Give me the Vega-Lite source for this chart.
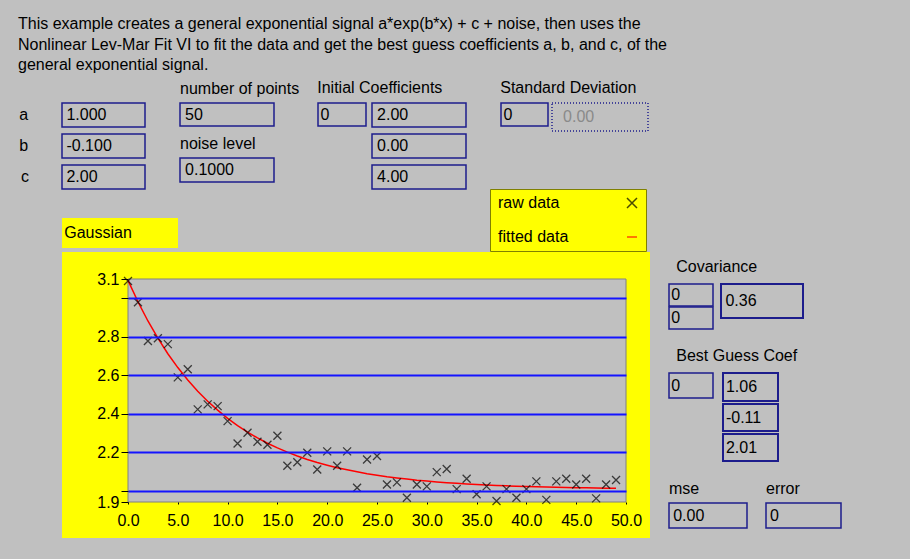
{
  "$schema": "https://vega.github.io/schema/vega-lite/v6.json",
  "autosize": "none",
  "padding": {"left": 62, "top": 103, "right": 848, "bottom": 456},
  "background": "#c0c0c0",
  "config": {
    "view": {"stroke": "#1c1c8c", "strokeWidth": 1.5},
    "text": {"font": "Liberation Sans", "fontSize": 16, "color": "#000000", "align": "left", "baseline": "middle"},
    "title": {"font": "Liberation Sans", "fontSize": 16, "fontWeight": "normal", "color": "#000000", "anchor": "start", "offset": 6}
  },
  "title": {
    "text": [
      "This example creates a general exponential signal a*exp(b*x) + c + noise, then uses the",
      "Nonlinear Lev-Mar Fit VI to fit the data and get the best guess coefficients a, b, and c, of the",
      "general exponential signal."
    ],
    "anchor": "start",
    "frame": "group",
    "orient": "top",
    "dx": -44,
    "offset": -6,
    "baseline": "alphabetic",
    "lineHeight": 20.5
  },
  "datasets": {
    "raw": [
      {"x": 0, "y": 3.09, "series": "raw data"},
      {"x": 1, "y": 2.979, "series": "raw data"},
      {"x": 2, "y": 2.778, "series": "raw data"},
      {"x": 3, "y": 2.792, "series": "raw data"},
      {"x": 4, "y": 2.762, "series": "raw data"},
      {"x": 5, "y": 2.589, "series": "raw data"},
      {"x": 6, "y": 2.631, "series": "raw data"},
      {"x": 7, "y": 2.423, "series": "raw data"},
      {"x": 8, "y": 2.449, "series": "raw data"},
      {"x": 9, "y": 2.44, "series": "raw data"},
      {"x": 10, "y": 2.362, "series": "raw data"},
      {"x": 11, "y": 2.246, "series": "raw data"},
      {"x": 12, "y": 2.302, "series": "raw data"},
      {"x": 13, "y": 2.255, "series": "raw data"},
      {"x": 14, "y": 2.239, "series": "raw data"},
      {"x": 15, "y": 2.286, "series": "raw data"},
      {"x": 16, "y": 2.13, "series": "raw data"},
      {"x": 17, "y": 2.148, "series": "raw data"},
      {"x": 18, "y": 2.198, "series": "raw data"},
      {"x": 19, "y": 2.111, "series": "raw data"},
      {"x": 20, "y": 2.205, "series": "raw data"},
      {"x": 21, "y": 2.13, "series": "raw data"},
      {"x": 22, "y": 2.205, "series": "raw data"},
      {"x": 23, "y": 2.016, "series": "raw data"},
      {"x": 24, "y": 2.163, "series": "raw data"},
      {"x": 25, "y": 2.181, "series": "raw data"},
      {"x": 26, "y": 2.033, "series": "raw data"},
      {"x": 27, "y": 2.044, "series": "raw data"},
      {"x": 28, "y": 1.964, "series": "raw data"},
      {"x": 29, "y": 2.033, "series": "raw data"},
      {"x": 30, "y": 2.023, "series": "raw data"},
      {"x": 31, "y": 2.097, "series": "raw data"},
      {"x": 32, "y": 2.113, "series": "raw data"},
      {"x": 33, "y": 2.009, "series": "raw data"},
      {"x": 34, "y": 2.063, "series": "raw data"},
      {"x": 35, "y": 1.982, "series": "raw data"},
      {"x": 36, "y": 2.023, "series": "raw data"},
      {"x": 37, "y": 1.947, "series": "raw data"},
      {"x": 38, "y": 2.009, "series": "raw data"},
      {"x": 39, "y": 1.964, "series": "raw data"},
      {"x": 40, "y": 2.009, "series": "raw data"},
      {"x": 41, "y": 2.049, "series": "raw data"},
      {"x": 42, "y": 1.953, "series": "raw data"},
      {"x": 43, "y": 2.049, "series": "raw data"},
      {"x": 44, "y": 2.063, "series": "raw data"},
      {"x": 45, "y": 2.033, "series": "raw data"},
      {"x": 46, "y": 2.063, "series": "raw data"},
      {"x": 47, "y": 1.961, "series": "raw data"},
      {"x": 48, "y": 2.033, "series": "raw data"},
      {"x": 49, "y": 2.056, "series": "raw data"}
    ],
    "fit": [
      {"x": 0, "y": 3.093, "series": "fitted data"},
      {"x": 1, "y": 2.982, "series": "fitted data"},
      {"x": 2, "y": 2.882, "series": "fitted data"},
      {"x": 3, "y": 2.793, "series": "fitted data"},
      {"x": 4, "y": 2.712, "series": "fitted data"},
      {"x": 5, "y": 2.64, "series": "fitted data"},
      {"x": 6, "y": 2.576, "series": "fitted data"},
      {"x": 7, "y": 2.517, "series": "fitted data"},
      {"x": 8, "y": 2.465, "series": "fitted data"},
      {"x": 9, "y": 2.419, "series": "fitted data"},
      {"x": 10, "y": 2.376, "series": "fitted data"},
      {"x": 11, "y": 2.339, "series": "fitted data"},
      {"x": 12, "y": 2.305, "series": "fitted data"},
      {"x": 13, "y": 2.275, "series": "fitted data"},
      {"x": 14, "y": 2.247, "series": "fitted data"},
      {"x": 15, "y": 2.223, "series": "fitted data"},
      {"x": 16, "y": 2.201, "series": "fitted data"},
      {"x": 17, "y": 2.181, "series": "fitted data"},
      {"x": 18, "y": 2.163, "series": "fitted data"},
      {"x": 19, "y": 2.147, "series": "fitted data"},
      {"x": 20, "y": 2.133, "series": "fitted data"},
      {"x": 21, "y": 2.12, "series": "fitted data"},
      {"x": 22, "y": 2.109, "series": "fitted data"},
      {"x": 23, "y": 2.099, "series": "fitted data"},
      {"x": 24, "y": 2.089, "series": "fitted data"},
      {"x": 25, "y": 2.081, "series": "fitted data"},
      {"x": 26, "y": 2.073, "series": "fitted data"},
      {"x": 27, "y": 2.067, "series": "fitted data"},
      {"x": 28, "y": 2.061, "series": "fitted data"},
      {"x": 29, "y": 2.055, "series": "fitted data"},
      {"x": 30, "y": 2.051, "series": "fitted data"},
      {"x": 31, "y": 2.046, "series": "fitted data"},
      {"x": 32, "y": 2.042, "series": "fitted data"},
      {"x": 33, "y": 2.039, "series": "fitted data"},
      {"x": 34, "y": 2.036, "series": "fitted data"},
      {"x": 35, "y": 2.033, "series": "fitted data"},
      {"x": 36, "y": 2.03, "series": "fitted data"},
      {"x": 37, "y": 2.028, "series": "fitted data"},
      {"x": 38, "y": 2.026, "series": "fitted data"},
      {"x": 39, "y": 2.024, "series": "fitted data"},
      {"x": 40, "y": 2.022, "series": "fitted data"},
      {"x": 41, "y": 2.021, "series": "fitted data"},
      {"x": 42, "y": 2.02, "series": "fitted data"},
      {"x": 43, "y": 2.018, "series": "fitted data"},
      {"x": 44, "y": 2.017, "series": "fitted data"},
      {"x": 45, "y": 2.016, "series": "fitted data"},
      {"x": 46, "y": 2.016, "series": "fitted data"},
      {"x": 47, "y": 2.015, "series": "fitted data"},
      {"x": 48, "y": 2.014, "series": "fitted data"},
      {"x": 49, "y": 2.013, "series": "fitted data"}
    ]
  },
  "spacing": 28,
  "vconcat": [
    {
      "spacing": 17,
      "hconcat": [
        {
          "bounds": "flush",
          "spacing": 7,
          "vconcat": [
            {
              "width": 83, "height": 24,
              "title": {"text": "a", "orient": "left", "angle": 0, "align": "right", "baseline": "middle", "anchor": "middle", "offset": 25},
              "data": {"values": [{"t": "1.000"}]},
              "mark": "text",
              "encoding": {"x": {"field": "t", "type": "nominal", "axis": null, "bandPosition": 0, "scale": {"type": "band", "paddingInner": 0, "paddingOuter": 0.06}}, "text": {"field": "t"}}
            },
            {
              "width": 83, "height": 24,
              "title": {"text": "b", "orient": "left", "angle": 0, "align": "right", "baseline": "middle", "anchor": "middle", "offset": 25},
              "data": {"values": [{"t": "-0.100"}]},
              "mark": "text",
              "encoding": {"x": {"field": "t", "type": "nominal", "axis": null, "bandPosition": 0, "scale": {"type": "band", "paddingInner": 0, "paddingOuter": 0.06}}, "text": {"field": "t"}}
            },
            {
              "width": 83, "height": 24,
              "title": {"text": "c", "orient": "left", "angle": 0, "align": "right", "baseline": "middle", "anchor": "middle", "offset": 25},
              "data": {"values": [{"t": "2.00"}]},
              "mark": "text",
              "encoding": {"x": {"field": "t", "type": "nominal", "axis": null, "bandPosition": 0, "scale": {"type": "band", "paddingInner": 0, "paddingOuter": 0.06}}, "text": {"field": "t"}}
            }
          ]
        },
        {
          "bounds": "flush",
          "spacing": 32,
          "title": {"text": " ", "orient": "left", "angle": 0, "align": "right", "anchor": "middle", "offset": 16},
          "vconcat": [
            {
              "width": 94, "height": 23,
              "title": "number of points",
              "data": {"values": [{"t": "50"}]},
              "mark": "text",
              "encoding": {"x": {"field": "t", "type": "nominal", "axis": null, "bandPosition": 0, "scale": {"type": "band", "paddingInner": 0, "paddingOuter": 0.06}}, "text": {"field": "t"}}
            },
            {
              "width": 94, "height": 24,
              "title": "noise level",
              "data": {"values": [{"t": "0.1000"}]},
              "mark": "text",
              "encoding": {"x": {"field": "t", "type": "nominal", "axis": null, "bandPosition": 0, "scale": {"type": "band", "paddingInner": 0, "paddingOuter": 0.06}}, "text": {"field": "t"}}
            }
          ]
        },
        {
          "spacing": 4,
          "title": "Initial Coefficients",
          "hconcat": [
            {
              "width": 48, "height": 23,
              "data": {"values": [{"t": "0"}]},
              "mark": "text",
              "encoding": {"x": {"field": "t", "type": "nominal", "axis": null, "bandPosition": 0, "scale": {"type": "band", "paddingInner": 0, "paddingOuter": 0.06}}, "text": {"field": "t"}}
            },
            {
              "bounds": "flush",
              "spacing": 7,
              "title": {"text": " ", "orient": "right", "angle": 0, "align": "left", "anchor": "middle", "offset": 16},
              "vconcat": [
                {
                  "width": 94, "height": 24,
                  "data": {"values": [{"t": "2.00"}]},
                  "mark": "text",
                  "encoding": {"x": {"field": "t", "type": "nominal", "axis": null, "bandPosition": 0, "scale": {"type": "band", "paddingInner": 0, "paddingOuter": 0.06}}, "text": {"field": "t"}}
                },
                {
                  "width": 94, "height": 24,
                  "data": {"values": [{"t": "0.00"}]},
                  "mark": "text",
                  "encoding": {"x": {"field": "t", "type": "nominal", "axis": null, "bandPosition": 0, "scale": {"type": "band", "paddingInner": 0, "paddingOuter": 0.06}}, "text": {"field": "t"}}
                },
                {
                  "width": 94, "height": 24,
                  "data": {"values": [{"t": "4.00"}]},
                  "mark": "text",
                  "encoding": {"x": {"field": "t", "type": "nominal", "axis": null, "bandPosition": 0, "scale": {"type": "band", "paddingInner": 0, "paddingOuter": 0.06}}, "text": {"field": "t"}}
                }
              ]
            }
          ]
        },
        {
          "bounds": "flush",
          "spacing": 4,
          "title": "Standard Deviation",
          "hconcat": [
            {
              "width": 47, "height": 23,
              "data": {"values": [{"t": "0"}]},
              "mark": "text",
              "encoding": {"x": {"field": "t", "type": "nominal", "axis": null, "bandPosition": 0, "scale": {"type": "band", "paddingInner": 0, "paddingOuter": 0.06}}, "text": {"field": "t"}}
            },
            {
              "width": 96, "height": 28,
              "view": {"stroke": "#1c1c8c", "strokeWidth": 1.5, "strokeDash": [1, 2]},
              "data": {"values": [{"t": "0.00"}]},
              "mark": {"type": "text", "color": "#8a8a8a"},
              "encoding": {"x": {"field": "t", "type": "nominal", "axis": null, "bandPosition": 0, "scale": {"type": "band", "paddingInner": 0, "paddingOuter": 0.15}}, "text": {"field": "t"}}
            }
          ]
        }
      ]
    },
    {
      "spacing": 18,
      "hconcat": [
        {
          "bounds": "flush",
          "spacing": 4,
          "vconcat": [
            {
              "width": 116, "height": 30,
              "view": {"fill": "#ffff00", "stroke": null},
              "data": {"values": [{"t": "Gaussian"}]},
              "mark": "text",
              "encoding": {"x": {"field": "t", "type": "nominal", "axis": null, "bandPosition": 0, "scale": {"type": "band", "paddingInner": 0, "paddingOuter": 0.02}}, "text": {"field": "t"}}
            },
            {
              "width": 588,
              "height": 286,
              "view": {"fill": "#ffff00", "stroke": null},
              "encoding": {
                "x": {
                  "type": "quantitative",
                  "scale": {"domain": [0, 50], "range": [66, 564], "nice": false, "zero": false},
                  "axis": {
                    "orient": "bottom",
                    "offset": -36,
                    "values": [0, 5, 10, 15, 20, 25, 30, 35, 40, 45, 50],
                    "format": ".1f",
                    "title": null,
                    "domain": false,
                    "grid": false,
                    "tickSize": 2,
                    "tickColor": "#000000",
                    "labelPadding": 8,
                    "labelFont": "Liberation Sans",
                    "labelFontSize": 16,
                    "labelColor": "#000000",
                    "labelFlush": false,
                    "labelOverlap": false,
                    "zindex": 1
                  }
                },
                "y": {
                  "type": "quantitative",
                  "scale": {"domain": [1.942, 3.1], "range": [250, 27], "nice": false, "zero": false},
                  "axis": {
                    "orient": "left",
                    "offset": -66,
                    "values": [1.942, 2.0, 2.2, 2.4, 2.6, 2.8, 3.0, 3.1],
                    "labelExpr": "datum.value == 2 || datum.value == 3 ? '' : format(datum.value, '.1f')",
                    "domain": false,
                    "grid": true,
                    "gridColor": {"condition": {"test": "datum.value < 1.95 || datum.value > 3.05", "value": "transparent"}, "value": "#1414ff"},
                    "gridWidth": 2,
                    "tickSize": 7,
                    "tickColor": "#000000",
                    "labelPadding": 2,
                    "labelFont": "Liberation Sans",
                    "labelFontSize": 16,
                    "labelColor": "#000000",
                    "labelFlush": false,
                    "labelOverlap": false,
                    "title": null,
                    "zindex": 1
                  }
                }
              },
              "layer": [
                {
                  "data": {"values": [{"plot": "area"}]},
                  "mark": {"type": "rect", "fill": "#c0c0c0", "stroke": "#808080", "strokeWidth": 1},
                  "encoding": {
                    "x": {"datum": 0, "type": "quantitative"},
                    "x2": {"datum": 50},
                    "y": {"datum": 1.942, "type": "quantitative"},
                    "y2": {"datum": 3.1}
                  }
                },
                {
                  "data": {"name": "fit"},
                  "mark": {"type": "line", "strokeWidth": 1.5},
                  "encoding": {
                    "x": {"field": "x", "type": "quantitative"},
                    "y": {"field": "y", "type": "quantitative"},
                    "color": {
                      "field": "series",
                      "type": "nominal",
                      "scale": {"domain": ["raw data", "fitted data"], "range": ["#000000", "#ff0000"]},
                      "legend": {
                        "title": null,
                        "orient": "none",
                        "legendX": 428,
                        "legendY": 86,
                        "fillColor": "#ffff00",
                        "strokeColor": "#808000",
                        "padding": 6,
                        "labelFont": "Liberation Sans",
                        "labelFontSize": 16,
                        "labelColor": "#000000",
                        "symbolSize": 100,
                        "symbolStrokeWidth": 1.5,
                        "symbolOffset": 128,
                        "labelOffset": -142,
                        "rowPadding": 18
                      }
                    }
                  }
                },
                {
                  "data": {"name": "raw"},
                  "mark": {"type": "point", "filled": false, "size": 64, "strokeWidth": 1.3},
                  "encoding": {
                    "x": {"field": "x", "type": "quantitative"},
                    "y": {"field": "y", "type": "quantitative"},
                    "color": {"field": "series", "type": "nominal"},
                    "shape": {
                      "field": "series",
                      "type": "nominal",
                      "scale": {"domain": ["raw data", "fitted data"], "range": ["M-1,-1L1,1M1,-1L-1,1", "stroke"]}
                    }
                  }
                }
              ]
            }
          ]
        },
        {
          "spacing": 18,
          "vconcat": [
            {
              "width": 10, "height": 23,
              "view": {"stroke": null},
              "data": {"values": [{}]},
              "mark": "text",
              "encoding": {"text": {"value": ""}}
            },
            {
              "spacing": 6,
              "title": {"text": "Covariance", "dx": 8, "offset": 8},
              "hconcat": [
                {
                  "bounds": "flush",
                  "spacing": 1,
                  "vconcat": [
                    {
                      "width": 44, "height": 22,
                      "data": {"values": [{"t": "0"}]},
                      "mark": "text",
                      "encoding": {"x": {"field": "t", "type": "nominal", "axis": null, "bandPosition": 0, "scale": {"type": "band", "paddingInner": 0, "paddingOuter": 0.06}}, "text": {"field": "t"}}
                    },
                    {
                      "width": 44, "height": 22,
                      "data": {"values": [{"t": "0"}]},
                      "mark": "text",
                      "encoding": {"x": {"field": "t", "type": "nominal", "axis": null, "bandPosition": 0, "scale": {"type": "band", "paddingInner": 0, "paddingOuter": 0.06}}, "text": {"field": "t"}}
                    }
                  ]
                },
                {
                  "width": 82, "height": 34,
                  "view": {"stroke": "#1c1c8c", "strokeWidth": 2},
                  "data": {"values": [{"t": "0.36"}]},
                  "mark": "text",
                  "encoding": {"x": {"field": "t", "type": "nominal", "axis": null, "bandPosition": 0, "scale": {"type": "band", "paddingInner": 0, "paddingOuter": 0.06}}, "text": {"field": "t"}}
                }
              ]
            },
            {
              "spacing": 8,
              "title": {"text": "Best Guess Coef", "dx": 8, "offset": 8},
              "hconcat": [
                {
                  "width": 44, "height": 25,
                  "data": {"values": [{"t": "0"}]},
                  "mark": "text",
                  "encoding": {"x": {"field": "t", "type": "nominal", "axis": null, "bandPosition": 0, "scale": {"type": "band", "paddingInner": 0, "paddingOuter": 0.06}}, "text": {"field": "t"}}
                },
                {
                  "bounds": "flush",
                  "spacing": 3,
                  "vconcat": [
                    {
                      "width": 55, "height": 28,
                      "view": {"stroke": "#1c1c8c", "strokeWidth": 2},
                      "data": {"values": [{"t": "1.06"}]},
                      "mark": "text",
                      "encoding": {"x": {"field": "t", "type": "nominal", "axis": null, "bandPosition": 0, "scale": {"type": "band", "paddingInner": 0, "paddingOuter": 0.06}}, "text": {"field": "t"}}
                    },
                    {
                      "width": 55, "height": 27,
                      "view": {"stroke": "#1c1c8c", "strokeWidth": 2},
                      "data": {"values": [{"t": "-0.11"}]},
                      "mark": "text",
                      "encoding": {"x": {"field": "t", "type": "nominal", "axis": null, "bandPosition": 0, "scale": {"type": "band", "paddingInner": 0, "paddingOuter": 0.06}}, "text": {"field": "t"}}
                    },
                    {
                      "width": 55, "height": 27,
                      "view": {"stroke": "#1c1c8c", "strokeWidth": 2},
                      "data": {"values": [{"t": "2.01"}]},
                      "mark": "text",
                      "encoding": {"x": {"field": "t", "type": "nominal", "axis": null, "bandPosition": 0, "scale": {"type": "band", "paddingInner": 0, "paddingOuter": 0.06}}, "text": {"field": "t"}}
                    }
                  ]
                }
              ]
            },
            {
              "bounds": "flush",
              "spacing": 19,
              "hconcat": [
                {
                  "width": 78, "height": 25,
                  "title": "mse",
                  "data": {"values": [{"t": "0.00"}]},
                  "mark": "text",
                  "encoding": {"x": {"field": "t", "type": "nominal", "axis": null, "bandPosition": 0, "scale": {"type": "band", "paddingInner": 0, "paddingOuter": 0.06}}, "text": {"field": "t"}}
                },
                {
                  "width": 75, "height": 25,
                  "title": "error",
                  "data": {"values": [{"t": "0"}]},
                  "mark": "text",
                  "encoding": {"x": {"field": "t", "type": "nominal", "axis": null, "bandPosition": 0, "scale": {"type": "band", "paddingInner": 0, "paddingOuter": 0.06}}, "text": {"field": "t"}}
                }
              ]
            }
          ]
        }
      ]
    }
  ]
}
